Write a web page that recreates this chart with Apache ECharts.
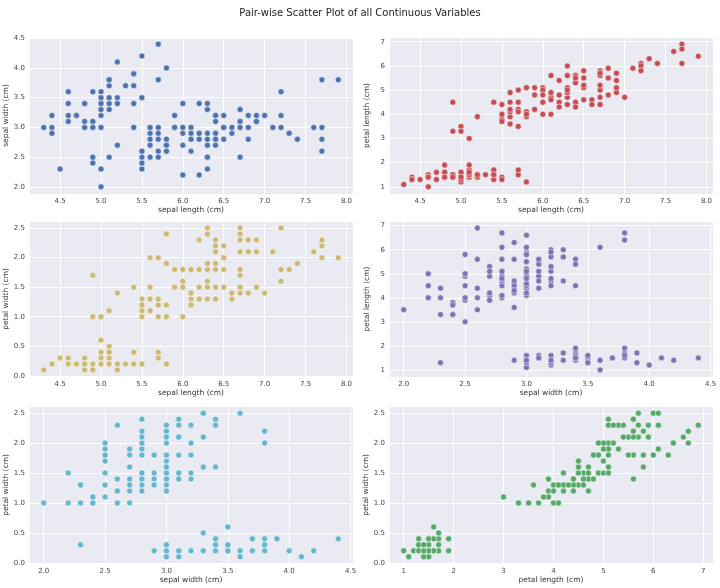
<!DOCTYPE html>
<html>
<head>
<meta charset="utf-8">
<script src="https://cdn.jsdelivr.net/npm/echarts@6/dist/echarts.min.js"></script>
<style>
  html, body { margin: 0; padding: 0; background: #fff; }
  #chart { width: 720px; height: 588px; }
</style>
</head>
<body>
<div id="chart"></div>
<script>
// iris measurements, one entry per flower
var sepalLength = [5.1,4.9,4.7,4.6,5.0,5.4,4.6,5.0,4.4,4.9,5.4,4.8,4.8,4.3,5.8,5.7,5.4,5.1,5.7,5.1,5.4,5.1,4.6,5.1,4.8,5.0,5.0,5.2,5.2,4.7,4.8,5.4,5.2,5.5,4.9,5.0,5.5,4.9,4.4,5.1,5.0,4.5,4.4,5.0,5.1,4.8,5.1,4.6,5.3,5.0,
  7.0,6.4,6.9,5.5,6.5,5.7,6.3,4.9,6.6,5.2,5.0,5.9,6.0,6.1,5.6,6.7,5.6,5.8,6.2,5.6,5.9,6.1,6.3,6.1,6.4,6.6,6.8,6.7,6.0,5.7,5.5,5.5,5.8,6.0,5.4,6.0,6.7,6.3,5.6,5.5,5.5,6.1,5.8,5.0,5.6,5.7,5.7,6.2,5.1,5.7,
  6.3,5.8,7.1,6.3,6.5,7.6,4.9,7.3,6.7,7.2,6.5,6.4,6.8,5.7,5.8,6.4,6.5,7.7,7.7,6.0,6.9,5.6,7.7,6.3,6.7,7.2,6.2,6.1,6.4,7.2,7.4,7.9,6.4,6.3,6.1,7.7,6.3,6.4,6.0,6.9,6.7,6.9,5.8,6.8,6.7,6.7,6.3,6.5,6.2,5.9];
var sepalWidth = [3.5,3.0,3.2,3.1,3.6,3.9,3.4,3.4,2.9,3.1,3.7,3.4,3.0,3.0,4.0,4.4,3.9,3.5,3.8,3.8,3.4,3.7,3.6,3.3,3.4,3.0,3.4,3.5,3.4,3.2,3.1,3.4,4.1,4.2,3.1,3.2,3.5,3.6,3.0,3.4,3.5,2.3,3.2,3.5,3.8,3.0,3.8,3.2,3.7,3.3,
  3.2,3.2,3.1,2.3,2.8,2.8,3.3,2.4,2.9,2.7,2.0,3.0,2.2,2.9,2.9,3.1,3.0,2.7,2.2,2.5,3.2,2.8,2.5,2.8,2.9,3.0,2.8,3.0,2.9,2.6,2.4,2.4,2.7,2.7,3.0,3.4,3.1,2.3,3.0,2.5,2.6,3.0,2.6,2.3,2.7,3.0,2.9,2.9,2.5,2.8,
  3.3,2.7,3.0,2.9,3.0,3.0,2.5,2.9,2.5,3.6,3.2,2.7,3.0,2.5,2.8,3.2,3.0,3.8,2.6,2.2,3.2,2.8,2.8,2.7,3.3,3.2,2.8,3.0,2.8,3.0,2.8,3.8,2.8,2.8,2.6,3.0,3.4,3.1,3.0,3.1,3.1,3.1,2.7,3.2,3.3,3.0,2.5,3.0,3.4,3.0];
var petalLength = [1.4,1.4,1.3,1.5,1.4,1.7,1.4,1.5,1.4,1.5,1.5,1.6,1.4,1.1,1.2,1.5,1.3,1.4,1.7,1.5,1.7,1.5,1.0,1.7,1.9,1.6,1.6,1.5,1.4,1.6,1.6,1.5,1.5,1.4,1.5,1.2,1.3,1.4,1.3,1.5,1.3,1.3,1.3,1.6,1.9,1.4,1.6,1.4,1.5,1.4,
  4.7,4.5,4.9,4.0,4.6,4.5,4.7,3.3,4.6,3.9,3.5,4.2,4.0,4.7,3.6,4.4,4.5,4.1,4.5,3.9,4.8,4.0,4.9,4.7,4.3,4.4,4.8,5.0,4.5,3.5,3.8,3.7,3.9,5.1,4.5,4.5,4.7,4.4,4.1,4.0,4.4,4.6,4.0,3.3,4.2,4.2,4.2,4.3,3.0,4.1,
  6.0,5.1,5.9,5.6,5.8,6.6,4.5,6.3,5.8,6.1,5.1,5.3,5.5,5.0,5.1,5.3,5.5,6.7,6.9,5.0,5.7,4.9,6.7,4.9,5.7,6.0,4.8,4.9,5.6,5.8,6.1,6.4,5.6,5.1,5.6,6.1,5.6,5.5,4.8,5.4,5.6,5.1,5.1,5.9,5.7,5.2,5.0,5.2,5.4,5.1];
var petalWidth = [0.2,0.2,0.2,0.2,0.2,0.4,0.3,0.2,0.2,0.1,0.2,0.2,0.1,0.1,0.2,0.4,0.4,0.3,0.3,0.3,0.2,0.4,0.2,0.5,0.2,0.2,0.4,0.2,0.2,0.2,0.2,0.4,0.1,0.2,0.2,0.2,0.2,0.1,0.2,0.2,0.3,0.3,0.2,0.6,0.4,0.3,0.2,0.2,0.2,0.2,
  1.4,1.5,1.5,1.3,1.5,1.3,1.6,1.0,1.3,1.4,1.0,1.5,1.0,1.4,1.3,1.4,1.5,1.0,1.5,1.1,1.8,1.3,1.5,1.2,1.3,1.4,1.4,1.7,1.5,1.0,1.1,1.0,1.2,1.6,1.5,1.6,1.5,1.3,1.3,1.3,1.2,1.4,1.2,1.0,1.3,1.2,1.3,1.3,1.1,1.3,
  2.5,1.9,2.1,1.8,2.2,2.1,1.7,1.8,1.8,2.5,2.0,1.9,2.1,2.0,2.4,2.3,1.8,2.2,2.3,1.5,2.3,2.0,2.0,1.8,2.1,1.8,1.8,1.8,2.1,1.6,1.9,2.0,2.2,1.5,1.4,2.3,2.4,1.8,1.8,2.1,2.4,2.3,1.9,2.3,2.5,2.3,1.9,2.0,2.3,1.8];

var pairs = [
  { x: 'sepal length (cm)', y: 'sepal width (cm)',  xs: sepalLength, ys: sepalWidth,  color: '#4C72B0' },
  { x: 'sepal length (cm)', y: 'petal length (cm)', xs: sepalLength, ys: petalLength, color: '#C44E52' },
  { x: 'sepal length (cm)', y: 'petal width (cm)',  xs: sepalLength, ys: petalWidth,  color: '#CCB974' },
  { x: 'sepal width (cm)',  y: 'petal length (cm)', xs: sepalWidth,  ys: petalLength, color: '#8172B3' },
  { x: 'sepal width (cm)',  y: 'petal width (cm)',  xs: sepalWidth,  ys: petalWidth,  color: '#64B5CD' },
  { x: 'petal length (cm)', y: 'petal width (cm)',  xs: petalLength, ys: petalWidth,  color: '#55A868' }
];

// tick step and decimals per variable (matplotlib style)
var tickStep = { 'sepal length (cm)': 0.5, 'sepal width (cm)': 0.5, 'petal length (cm)': 1, 'petal width (cm)': 0.5 };
var tickDec  = { 'sepal length (cm)': 1, 'sepal width (cm)': 1, 'petal length (cm)': 0, 'petal width (cm)': 1 };

var rows = [{ top: 37, height: 157 }, { top: 221, height: 156 }, { top: 406, height: 158 }];
var cols = [{ left: 29, width: 324 }, { left: 389, width: 324 }];

function range(arr) {
  var lo = Math.min.apply(null, arr), hi = Math.max.apply(null, arr);
  var m = (hi - lo) * 0.05;
  return [lo - m, hi + m];
}

function makeAxis(name, arr, idx, isX) {
  var r = range(arr), step = tickStep[name], dec = tickDec[name];
  return {
    type: 'value',
    gridIndex: idx,
    min: r[0],
    max: r[1],
    minInterval: step,
    maxInterval: step,
    name: name,
    nameLocation: 'middle',
    nameGap: isX ? 12 : 18,
    nameTextStyle: { fontFamily: 'DejaVu Sans', fontSize: 7.5, color: '#333' },
    axisLine: { show: false },
    axisTick: { show: false },
    axisLabel: {
      fontFamily: 'DejaVu Sans',
      fontSize: 7,
      color: '#444',
      margin: 4,
      formatter: function (v) {
        var k = v / step;
        if (Math.abs(k - Math.round(k)) > 1e-6) return '';
        return v.toFixed(dec);
      }
    },
    splitLine: { show: true, lineStyle: { color: '#ffffff', width: 1 } }
  };
}

var grids = [], xAxes = [], yAxes = [], series = [];
pairs.forEach(function (p, i) {
  var row = rows[Math.floor(i / 2)], col = cols[i % 2];
  grids.push({
    left: col.left, top: row.top, width: col.width, height: row.height,
    show: true, backgroundColor: '#EAEAF2', borderWidth: 0
  });
  xAxes.push(makeAxis(p.x, p.xs, i, true));
  yAxes.push(makeAxis(p.y, p.ys, i, false));
  series.push({
    type: 'scatter',
    xAxisIndex: i,
    yAxisIndex: i,
    symbolSize: 6,
    itemStyle: { color: p.color, borderColor: '#ffffff', borderWidth: 0.5, opacity: 1 },
    data: p.xs.map(function (v, j) { return [v, p.ys[j]]; })
  });
});

var chart = echarts.init(document.getElementById('chart'));
chart.setOption({
  animation: false,
  backgroundColor: '#ffffff',
  title: {
    text: 'Pair-wise Scatter Plot of all Continuous Variables',
    left: 'center',
    top: 3,
    textStyle: { fontFamily: 'DejaVu Sans', fontSize: 10, fontWeight: 'normal', color: '#222' }
  },
  grid: grids,
  xAxis: xAxes,
  yAxis: yAxes,
  series: series
});
</script>
</body>
</html>
